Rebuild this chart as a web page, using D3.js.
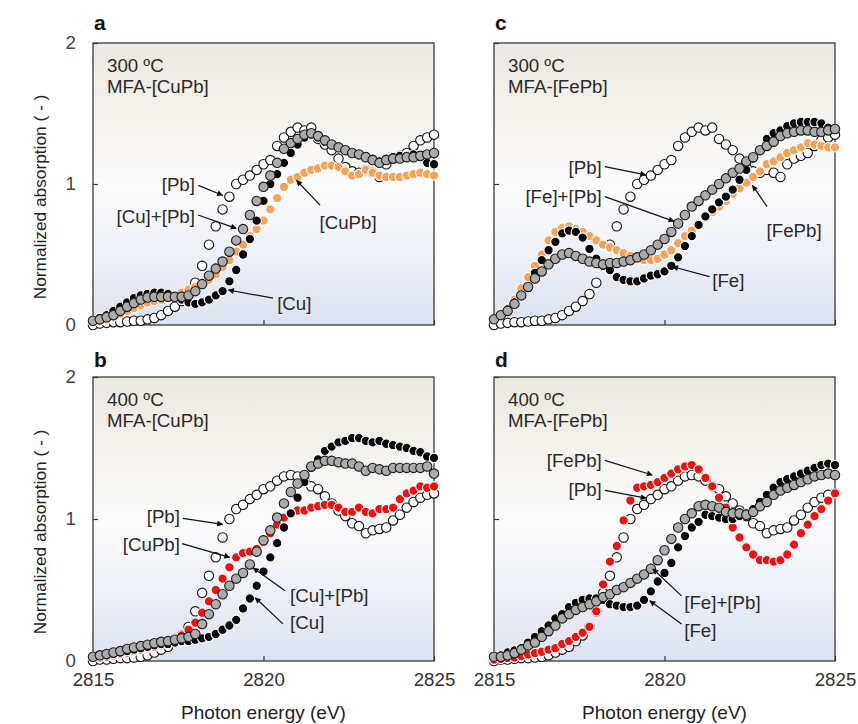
<!DOCTYPE html>
<html><head><meta charset="utf-8">
<script src="https://cdn.jsdelivr.net/npm/d3@7"></script>
<style>
body{margin:0;background:#fff;}
svg{display:block;font-family:Arial,"Liberation Sans",Helvetica,sans-serif;}
</style>
</head><body>
<svg id="chart" width="858" height="724"></svg>
<script>
// ---------- data ----------
const energy = [2815.0,2815.2,2815.4,2815.6,2815.8,2816.0,2816.2,2816.4,2816.6,2816.8,
  2817.0,2817.2,2817.4,2817.6,2817.8,2818.0,2818.2,2818.4,2818.6,2818.8,
  2819.0,2819.2,2819.4,2819.6,2819.8,2820.0,2820.2,2820.4,2820.6,2820.8,
  2821.0,2821.2,2821.4,2821.6,2821.8,2822.0,2822.2,2822.4,2822.6,2822.8,
  2823.0,2823.2,2823.4,2823.6,2823.8,2824.0,2824.2,2824.4,2824.6,2824.8,2825.0];

// 300 °C references
const pb300 = [0.00,0.01,0.015,0.02,0.02,0.025,0.03,0.03,0.04,0.05,
  0.07,0.10,0.13,0.17,0.22,0.30,0.42,0.57,0.70,0.82,
  0.91,1.00,1.03,1.06,1.10,1.14,1.17,1.27,1.33,1.37,
  1.40,1.38,1.40,1.32,1.28,1.24,1.18,1.12,1.09,1.08,
  1.10,1.08,1.05,1.14,1.18,1.20,1.22,1.27,1.31,1.33,1.35];
const cu300 = [0.03,0.05,0.07,0.10,0.13,0.16,0.19,0.21,0.22,0.23,
  0.23,0.22,0.20,0.18,0.16,0.15,0.16,0.18,0.21,0.24,
  0.31,0.39,0.50,0.61,0.74,0.88,1.00,1.07,1.15,1.22,
  1.28,1.33,1.35,1.33,1.30,1.28,1.26,1.24,1.22,1.21,
  1.20,1.18,1.16,1.18,1.19,1.20,1.20,1.21,1.19,1.15,1.14];
const cuPlusPb300 = [0.03,0.04,0.055,0.07,0.10,0.13,0.155,0.18,0.195,0.20,
  0.20,0.20,0.20,0.20,0.21,0.24,0.29,0.35,0.40,0.45,
  0.52,0.60,0.68,0.78,0.88,0.98,1.06,1.15,1.25,1.29,
  1.32,1.35,1.36,1.34,1.31,1.28,1.26,1.24,1.22,1.21,
  1.19,1.17,1.15,1.17,1.18,1.18,1.19,1.19,1.20,1.21,1.22];
const cuPb300 = [0.02,0.03,0.04,0.06,0.08,0.10,0.12,0.14,0.16,0.17,
  0.18,0.19,0.21,0.23,0.25,0.27,0.29,0.32,0.36,0.41,
  0.46,0.52,0.57,0.63,0.68,0.74,0.82,0.90,0.98,1.03,
  1.05,1.08,1.10,1.11,1.13,1.13,1.12,1.09,1.06,1.07,
  1.10,1.08,1.06,1.05,1.05,1.05,1.06,1.07,1.08,1.07,1.06];
const fe300 = [0.04,0.07,0.11,0.16,0.21,0.27,0.37,0.46,0.53,0.59,
  0.65,0.67,0.66,0.62,0.54,0.47,0.42,0.39,0.34,0.32,
  0.31,0.31,0.33,0.35,0.36,0.38,0.42,0.48,0.56,0.63,
  0.71,0.77,0.82,0.87,0.91,0.96,1.03,1.10,1.18,1.24,
  1.32,1.36,1.38,1.41,1.43,1.44,1.44,1.44,1.43,1.40,1.39];
const fePlusPb300 = [0.04,0.07,0.10,0.15,0.21,0.27,0.33,0.38,0.43,0.47,
  0.50,0.51,0.49,0.47,0.45,0.44,0.43,0.44,0.44,0.45,
  0.46,0.48,0.50,0.53,0.57,0.61,0.66,0.72,0.78,0.84,
  0.88,0.92,0.96,1.00,1.04,1.08,1.11,1.16,1.19,1.24,
  1.27,1.30,1.34,1.36,1.37,1.38,1.38,1.37,1.37,1.38,1.39];
const fePb300 = [0.04,0.08,0.12,0.18,0.26,0.34,0.42,0.50,0.60,0.66,
  0.69,0.70,0.68,0.66,0.63,0.60,0.57,0.55,0.53,0.51,
  0.49,0.47,0.46,0.46,0.47,0.50,0.53,0.58,0.63,0.67,
  0.72,0.76,0.80,0.84,0.88,0.93,0.97,1.01,1.05,1.09,
  1.14,1.16,1.19,1.22,1.24,1.26,1.29,1.28,1.27,1.26,1.26];

// 400 °C references
const pb400 = [0.00,0.01,0.01,0.015,0.02,0.02,0.025,0.03,0.04,0.06,
  0.08,0.10,0.14,0.18,0.24,0.35,0.48,0.60,0.73,0.87,
  1.00,1.07,1.10,1.14,1.17,1.21,1.23,1.27,1.30,1.31,
  1.30,1.27,1.23,1.21,1.16,1.11,1.06,1.02,0.97,0.95,
  0.90,0.92,0.93,0.94,0.99,1.03,1.08,1.12,1.15,1.17,1.18];
const cu400 = [0.03,0.035,0.04,0.05,0.06,0.07,0.08,0.09,0.10,0.11,
  0.12,0.12,0.13,0.14,0.14,0.15,0.16,0.17,0.19,0.22,
  0.25,0.29,0.37,0.44,0.53,0.63,0.73,0.83,0.94,1.04,
  1.15,1.26,1.36,1.42,1.48,1.51,1.54,1.55,1.57,1.57,
  1.55,1.54,1.55,1.53,1.52,1.51,1.50,1.48,1.47,1.44,1.43];
const cuPlusPb400 = [0.03,0.04,0.05,0.06,0.07,0.085,0.095,0.105,0.115,0.125,
  0.135,0.14,0.15,0.16,0.17,0.19,0.26,0.33,0.40,0.47,
  0.53,0.58,0.62,0.68,0.77,0.85,0.92,1.01,1.11,1.19,
  1.25,1.31,1.37,1.39,1.41,1.41,1.40,1.39,1.39,1.37,
  1.34,1.36,1.35,1.34,1.36,1.36,1.36,1.36,1.36,1.37,1.32];
const cuPb400 = [0.02,0.025,0.03,0.04,0.05,0.06,0.07,0.08,0.09,0.10,
  0.11,0.13,0.15,0.18,0.22,0.27,0.34,0.42,0.50,0.58,
  0.66,0.73,0.76,0.77,0.79,0.84,0.90,0.96,1.01,1.04,
  1.06,1.06,1.08,1.09,1.10,1.10,1.08,1.05,1.05,1.08,
  1.05,1.04,1.07,1.07,1.08,1.14,1.18,1.20,1.23,1.22,1.23];
const fe400 = [0.03,0.04,0.06,0.075,0.09,0.13,0.17,0.21,0.25,0.30,
  0.33,0.38,0.41,0.43,0.44,0.44,0.43,0.40,0.39,0.38,
  0.38,0.39,0.43,0.49,0.56,0.62,0.69,0.80,0.88,0.94,
  0.98,1.03,1.02,1.01,1.00,1.00,1.02,1.04,1.07,1.12,
  1.17,1.22,1.26,1.28,1.30,1.32,1.34,1.36,1.38,1.39,1.38];
const fePlusPb400 = [0.03,0.03,0.04,0.055,0.08,0.11,0.13,0.17,0.21,0.25,
  0.30,0.33,0.36,0.38,0.40,0.42,0.45,0.47,0.50,0.52,
  0.55,0.58,0.61,0.65,0.71,0.78,0.86,0.94,1.00,1.04,
  1.09,1.10,1.09,1.08,1.05,1.04,1.04,1.03,1.05,1.09,
  1.12,1.17,1.20,1.22,1.24,1.26,1.28,1.30,1.31,1.32,1.31];
const fePb400 = [0.01,0.015,0.02,0.025,0.035,0.045,0.055,0.065,0.08,0.09,
  0.12,0.14,0.17,0.20,0.24,0.35,0.54,0.70,0.81,0.99,
  1.13,1.22,1.23,1.24,1.26,1.29,1.32,1.35,1.37,1.38,
  1.35,1.29,1.23,1.15,1.08,0.94,0.87,0.80,0.75,0.71,
  0.71,0.70,0.71,0.75,0.82,0.90,0.96,1.02,1.07,1.13,1.18];

const xTicks = [2815, 2820, 2825];
const yTicks = [0, 1, 2];
const panelLetters = ["a", "b", "c", "d"];
const panelTemps = ["300 ºC", "400 ºC", "300 ºC", "400 ºC"];
const panelSamples = ["MFA-[CuPb]", "MFA-[CuPb]", "MFA-[FePb]", "MFA-[FePb]"];

// ---------- panels (series drawn bottom -> top) ----------
const styles = {
  open:   {fill:"#ffffff", stroke:"#111111"},
  orange: {fill:"#f5a35a", stroke:"#ffffff"},
  red:    {fill:"#ee1111", stroke:"#ffffff"},
  black:  {fill:"#050505", stroke:"#ffffff"},
  gray:   {fill:"#ababab", stroke:"#1a1a1a"}
};

const panels = [
  {letter:panelLetters[0], temp:panelTemps[0], sample:panelSamples[0], col:0, row:0,
   series:[{v:pb300,s:"open"},{v:cuPb300,s:"orange"},{v:cu300,s:"black"},{v:cuPlusPb300,s:"gray"}],
   notes:[
     {t:"[Pb]", a:"end", tx:2817.99, ty:1.00, x1:2818.09, y1:0.99, x2:2818.80, y2:0.92},
     {t:"[Cu]+[Pb]", a:"end", tx:2817.99, ty:0.773, x1:2818.08, y1:0.78, x2:2819.20, y2:0.685},
     {t:"[CuPb]", a:"middle", tx:2822.48, ty:0.73, x1:2821.66, y1:0.85, x2:2820.97, y2:1.025},
     {t:"[Cu]", a:"start", tx:2820.40, ty:0.156, x1:2820.28, y1:0.19, x2:2818.97, y2:0.248}
   ]},
  {letter:panelLetters[1], temp:panelTemps[1], sample:panelSamples[1], col:0, row:1,
   series:[{v:pb400,s:"open"},{v:cuPb400,s:"red"},{v:cu400,s:"black"},{v:cuPlusPb400,s:"gray"}],
   notes:[
     {t:"[Pb]", a:"end", tx:2817.55, ty:1.018, x1:2817.64, y1:1.004, x2:2818.80, y2:0.962},
     {t:"[CuPb]", a:"end", tx:2817.55, ty:0.82, x1:2817.61, y1:0.827, x2:2819.01, y2:0.73},
     {t:"[Cu]+[Pb]", a:"start", tx:2820.78, ty:0.459, x1:2820.63, y1:0.495, x2:2819.70, y2:0.655},
     {t:"[Cu]", a:"start", tx:2820.78, ty:0.269, x1:2820.57, y1:0.261, x2:2819.76, y2:0.445}
   ]},
  {letter:panelLetters[2], temp:panelTemps[2], sample:panelSamples[2], col:1, row:0,
   series:[{v:pb300,s:"open"},{v:fePb300,s:"orange"},{v:fe300,s:"black"},{v:fePlusPb300,s:"gray"}],
   notes:[
     {t:"[Pb]", a:"end", tx:2818.16, ty:1.12, x1:2818.25, y1:1.123, x2:2819.45, y2:1.065},
     {t:"[Fe]+[Pb]", a:"end", tx:2818.16, ty:0.915, x1:2818.25, y1:0.91, x2:2820.28, y2:0.735},
     {t:"[FePb]", a:"middle", tx:2823.80, ty:0.667, x1:2823.01, y1:0.839, x2:2822.58, y2:0.99},
     {t:"[Fe]", a:"start", tx:2821.40, ty:0.319, x1:2821.32, y1:0.343, x2:2820.24, y2:0.413}
   ]},
  {letter:panelLetters[3], temp:panelTemps[3], sample:panelSamples[3], col:1, row:1,
   series:[{v:pb400,s:"open"},{v:fePb400,s:"red"},{v:fe400,s:"black"},{v:fePlusPb400,s:"gray"}],
   notes:[
     {t:"[FePb]", a:"end", tx:2818.16, ty:1.413, x1:2818.25, y1:1.413, x2:2819.64, y2:1.31},
     {t:"[Pb]", a:"end", tx:2818.16, ty:1.208, x1:2818.25, y1:1.201, x2:2819.46, y2:1.147},
     {t:"[Fe]+[Pb]", a:"start", tx:2820.58, ty:0.41, x1:2820.50, y1:0.459, x2:2819.66, y2:0.648},
     {t:"[Fe]", a:"start", tx:2820.58, ty:0.212, x1:2820.50, y1:0.261, x2:2819.57, y2:0.424}
   ]}
];

// ---------- layout ----------
const colX = [[93, 434], [494, 835]];
const rowY = [[43, 325], [377, 661]];
const FS = 18.7;

const svg = d3.select("#chart");
const defs = svg.append("defs");
const grad = defs.append("linearGradient").attr("id","bg").attr("x1",0).attr("y1",0).attr("x2",0).attr("y2",1);
grad.append("stop").attr("offset","0%").attr("stop-color","#ebe8e0");
grad.append("stop").attr("offset","30%").attr("stop-color","#f6f4ef");
grad.append("stop").attr("offset","52%").attr("stop-color","#fcfcfd");
grad.append("stop").attr("offset","100%").attr("stop-color","#dce2f0");
defs.append("marker").attr("id","arrow").attr("viewBox","0 0 10 10")
  .attr("refX",9).attr("refY",5).attr("markerWidth",7).attr("markerHeight",6)
  .attr("markerUnits","userSpaceOnUse").attr("orient","auto")
  .append("path").attr("d","M0,0 L10,5 L0,10 z").attr("fill","#111");

panels.forEach(p => {
  const [x0, x1] = colX[p.col];
  const [y0, y1] = rowY[p.row];
  const x = d3.scaleLinear().domain([2815, 2825]).range([x0, x1]);
  const y = d3.scaleLinear().domain([0, 2]).range([y1, y0]);
  const g = svg.append("g");

  g.append("rect").attr("x", x0).attr("y", y0).attr("width", x1 - x0).attr("height", y1 - y0)
    .attr("fill", "url(#bg)");

  // axes with inner ticks
  const xAxis = d3.axisBottom(x).tickValues(xTicks).tickSizeInner(-5).tickSizeOuter(0)
    .tickFormat(p.row === 1 ? d3.format("d") : () => "");
  const gx = g.append("g").attr("transform", `translate(0,${y1})`).call(xAxis);
  gx.select(".domain").remove();
  gx.selectAll("line").attr("stroke", "#333").attr("stroke-width", 1.2);
  gx.selectAll("text").attr("font-size", FS).attr("fill", "#333")
    .attr("font-family", "Arial, 'Liberation Sans', sans-serif").attr("dy", "1.2em");

  const yAxis = d3.axisLeft(y).tickValues(yTicks).tickSizeInner(-5).tickSizeOuter(0)
    .tickFormat(p.col === 0 ? d3.format("d") : () => "");
  const gy = g.append("g").attr("transform", `translate(${x0},0)`).call(yAxis);
  gy.select(".domain").remove();
  gy.selectAll("line").attr("stroke", "#333").attr("stroke-width", 1.2);
  gy.selectAll("text").attr("font-size", FS).attr("fill", "#444")
    .attr("font-family", "Arial, 'Liberation Sans', sans-serif").attr("x", -17);

  g.append("rect").attr("x", x0).attr("y", y0).attr("width", x1 - x0).attr("height", y1 - y0)
    .attr("fill", "none").attr("stroke", "#3a3a3a").attr("stroke-width", 1.3);

  // panel texts
  g.append("text").attr("x", x0 + 1).attr("y", y0 - (p.row === 0 ? 13 : 10))
    .attr("font-size", 21).attr("font-weight", "bold").attr("fill", "#111").text(p.letter);
  g.append("text").attr("x", x0 + 14).attr("y", y0 + 28.5).attr("font-size", FS)
    .attr("fill", "#2a2a2a").text(p.temp);
  g.append("text").attr("x", x0 + 14).attr("y", y0 + 49.5).attr("font-size", FS)
    .attr("fill", "#2a2a2a").text(p.sample);

  // series
  p.series.forEach(s => {
    const st = styles[s.s];
    g.append("g").selectAll("circle").data(energy.map((e, i) => [e, s.v[i]])).join("circle")
      .attr("cx", d => x(d[0])).attr("cy", d => y(d[1])).attr("r", 4.7)
      .attr("fill", st.fill).attr("stroke", st.stroke).attr("stroke-width", 1.1);
  });

  // annotations
  p.notes.forEach(n => {
    g.append("line").attr("x1", x(n.x1)).attr("y1", y(n.y1)).attr("x2", x(n.x2)).attr("y2", y(n.y2))
      .attr("stroke", "#111").attr("stroke-width", 1.2).attr("marker-end", "url(#arrow)");
    g.append("text").attr("x", x(n.tx)).attr("y", y(n.ty)).attr("dy", "0.35em")
      .attr("text-anchor", n.a).attr("font-size", FS).attr("fill", "#2a2a2a").text(n.t);
  });

  // axis titles
  if (p.row === 1) {
    g.append("text").attr("x", (x0 + x1) / 2).attr("y", 719).attr("text-anchor", "middle")
      .attr("font-size", 19).attr("fill", "#222").text("Photon energy (eV)");
  }
  if (p.col === 0) {
    g.append("text").attr("transform", `translate(46,${(y0 + y1) / 2 + 13}) rotate(-90)`)
      .attr("text-anchor", "middle").attr("font-size", 17.3).attr("fill", "#222")
      .text("Normalized absorption ( - )");
  }
});
</script>
</body></html>
